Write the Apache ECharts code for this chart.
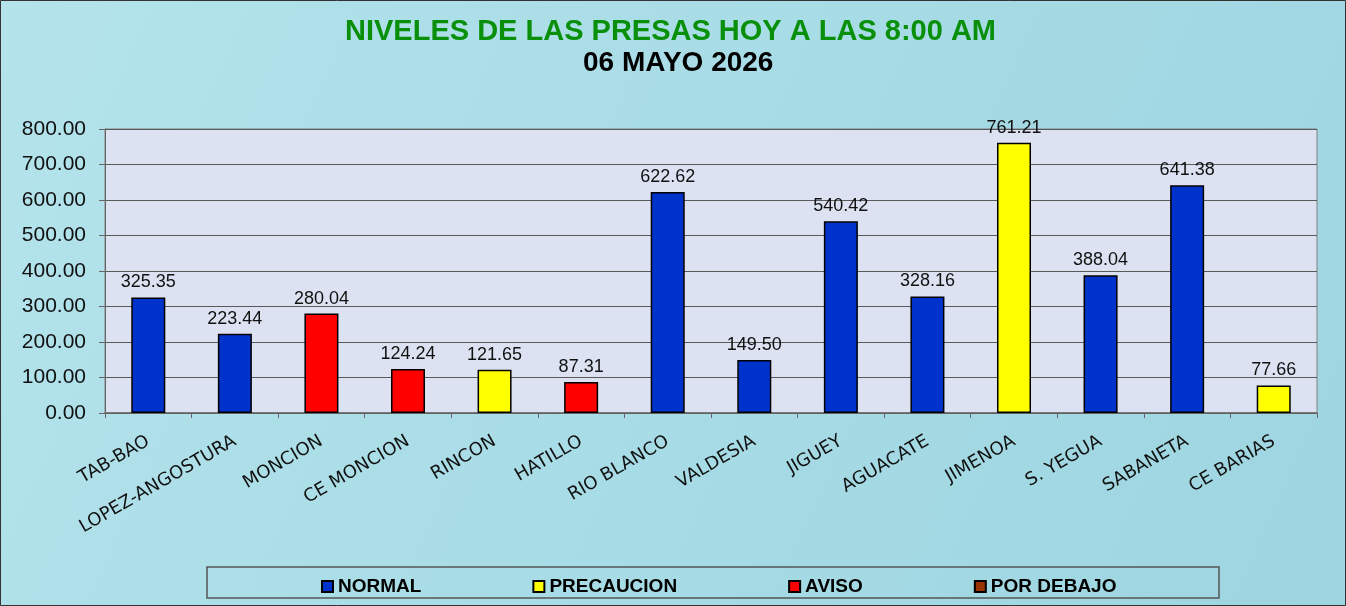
<!DOCTYPE html>
<html>
<head>
<meta charset="utf-8">
<title>Niveles de las presas</title>
<script src="https://cdn.jsdelivr.net/npm/echarts@6/dist/echarts.min.js"></script>
<style>
  html, body { margin: 0; padding: 0; }
  #chart { width: 1346px; height: 606px; }
</style>
</head>
<body>
<div id="chart"></div>
<script>
// datos
const categories = ["TAB-BAO", "LOPEZ-ANGOSTURA", "MONCION", "CE MONCION", "RINCON", "HATILLO",
  "RIO BLANCO", "VALDESIA", "JIGUEY", "AGUACATE", "JIMENOA", "S. YEGUA", "SABANETA", "CE BARIAS"]
const levels = [325.35, 223.44, 280.04, 124.24, 121.65, 87.31, 622.62, 149.50, 540.42, 328.16, 761.21, 388.04, 641.38, 77.66]
const status = ["NORMAL", "NORMAL", "AVISO", "AVISO", "PRECAUCION", "AVISO", "NORMAL",
  "NORMAL", "NORMAL", "NORMAL", "PRECAUCION", "NORMAL", "NORMAL", "PRECAUCION"]
const statusNames = ["NORMAL", "PRECAUCION", "AVISO", "POR DEBAJO"]
const statusColors = ["#0033cc", "#ffff00", "#ff0000", "#993300"]
const yTicks = [0, 100, 200, 300, 400, 500, 600, 700, 800]

const chart = echarts.init(document.getElementById("chart"))

// una serie por estado, apiladas para que compartan la misma columna
const series = statusNames.map((name, i) => ({
  name: name,
  type: "bar",
  stack: "nivel",
  barWidth: 34,
  data: levels.map((v, j) => (status[j] === name ? v : "-")),
  itemStyle: {
    color: statusColors[i],
    borderColor: "#000",
    borderWidth: 1.5
  },
  label: {
    show: true,
    position: "top",
    distance: 6,
    color: "#111",
    fontFamily: "Liberation Sans, Arial",
    fontSize: 18,
    formatter: p => Number(p.value).toFixed(2)
  }
}))

chart.setOption({
  backgroundColor: {
    type: "linear", x: 0, y: 0, x2: 1, y2: 1,
    colorStops: [
      { offset: 0, color: "#b4e3eb" },
      { offset: 0.5, color: "#a8dce6" },
      { offset: 1, color: "#9dd5e0" }
    ]
  },
  title: [
    {
      text: "NIVELES DE LAS PRESAS HOY A LAS 8:00 AM",
      left: 340,
      top: 12,
      textStyle: { color: "#0a8f0a", fontSize: 29, fontWeight: "bold", fontFamily: "Liberation Sans, Arial" }
    },
    {
      text: "06 MAYO 2026",
      left: 578,
      top: 44,
      textStyle: { color: "#000", fontSize: 28, fontWeight: "bold", fontFamily: "Liberation Sans, Arial" }
    }
  ],
  legend: {
    data: statusNames,
    left: 316,
    top: 572,
    itemWidth: 11,
    itemHeight: 11,
    itemGap: 111,
    icon: "rect",
    textStyle: { color: "#000", fontSize: 19, fontWeight: "bold", fontFamily: "Liberation Sans, Arial" }
  },
  graphic: [
    {
      type: "rect",
      shape: { x: 207, y: 567, width: 1012, height: 31 },
      style: { fill: "transparent", stroke: "#555", lineWidth: 1.5 },
      silent: true
    },
    {
      type: "rect",
      shape: { x: 0.5, y: 0.5, width: 1345, height: 605 },
      style: { fill: "transparent", stroke: "#333", lineWidth: 1 },
      silent: true
    }
  ],
  grid: {
    left: 105,
    right: 29,
    top: 129,
    bottom: 193,
    show: true,
    backgroundColor: "#dce2f1",
    borderColor: "#808080",
    borderWidth: 1
  },
  xAxis: {
    type: "category",
    data: categories,
    axisLine: { lineStyle: { color: "#666", width: 1.5 } },
    axisTick: { show: true, length: 5, lineStyle: { color: "#666" } },
    axisLabel: {
      interval: 0,
      rotate: 30,
      margin: 27,
      color: "#111",
      fontSize: 18,
      fontFamily: "DejaVu Sans, Verdana"
    }
  },
  yAxis: {
    type: "value",
    min: yTicks[0],
    max: yTicks[yTicks.length - 1],
    interval: yTicks[1] - yTicks[0],
    axisLine: { show: true, lineStyle: { color: "#666" } },
    axisTick: { show: true, length: 6, lineStyle: { color: "#666" } },
    splitLine: { lineStyle: { color: "#5a5a5a", width: 1.2 } },
    axisLabel: {
      color: "#111",
      fontSize: 21,
      margin: 19,
      fontFamily: "Liberation Sans, Arial",
      formatter: v => v.toFixed(2)
    }
  },
  series: series
})
</script>
</body>
</html>
